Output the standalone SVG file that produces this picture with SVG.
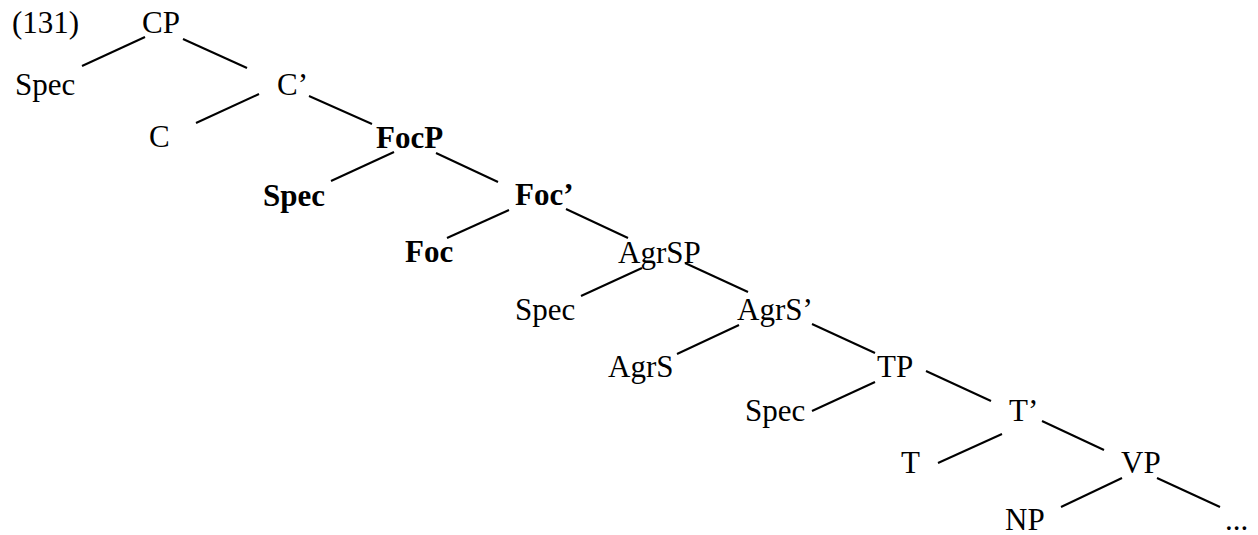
<svg xmlns="http://www.w3.org/2000/svg" width="1258" height="535" viewBox="0 0 1258 535">
<style>
text{font-family:"Liberation Serif","Times New Roman",serif;font-size:31px;fill:#000}
.b{font-weight:bold}
line{stroke:#000;stroke-width:2}
</style>
<rect width="1258" height="535" fill="#fff"/>
<text x="12" y="33">(131)</text>
<g id="connectors">
<line x1="145" y1="37" x2="82" y2="66"/>
<line x1="183" y1="39" x2="247" y2="68"/>
<line x1="259" y1="94" x2="196" y2="123"/>
<line x1="309" y1="96" x2="372" y2="124"/>
<line x1="394" y1="152" x2="331" y2="181"/>
<line x1="436" y1="153" x2="498" y2="182"/>
<line x1="509" y1="210" x2="447" y2="238"/>
<line x1="566" y1="209" x2="628" y2="238"/>
<line x1="642" y1="268" x2="581" y2="296"/>
<line x1="685" y1="263" x2="748" y2="292"/>
<line x1="739" y1="325" x2="677" y2="354"/>
<line x1="812" y1="324" x2="875" y2="353"/>
<line x1="875" y1="382" x2="812" y2="411"/>
<line x1="926" y1="371" x2="991" y2="401"/>
<line x1="1002" y1="434" x2="938" y2="463"/>
<line x1="1042" y1="421" x2="1104" y2="450"/>
<line x1="1122" y1="478" x2="1061" y2="507"/>
<line x1="1157" y1="478" x2="1220" y2="507"/>
</g>
<g id="CP"><text x="142" y="33">CP</text></g>
<g id="Spec1"><text x="15" y="95">Spec</text></g>
<g id="Cbar"><text x="277" y="95">C’</text></g>
<g id="C"><text x="149" y="147">C</text></g>
<g id="FocP"><text class="b" x="376" y="148">FocP</text></g>
<g id="Spec2"><text class="b" x="263" y="206">Spec</text></g>
<g id="Focbar"><text class="b" x="515" y="205">Foc’</text></g>
<g id="Foc"><text class="b" x="405" y="262">Foc</text></g>
<g id="AgrSP"><text x="618" y="263">AgrSP</text></g>
<g id="Spec3"><text x="515" y="320">Spec</text></g>
<g id="AgrSbar"><text x="737" y="320">AgrS’</text></g>
<g id="AgrS"><text x="608" y="377">AgrS</text></g>
<g id="TP"><text x="877" y="377">TP</text></g>
<g id="Spec4"><text x="745" y="421">Spec</text></g>
<g id="Tbar"><text x="1009" y="421">T’</text></g>
<g id="T"><text x="901" y="473">T</text></g>
<g id="VP"><text x="1121" y="473">VP</text></g>
<g id="NP"><text x="1005" y="530">NP</text></g>
<g id="dots"><text x="1225" y="530">...</text></g>
</svg>
